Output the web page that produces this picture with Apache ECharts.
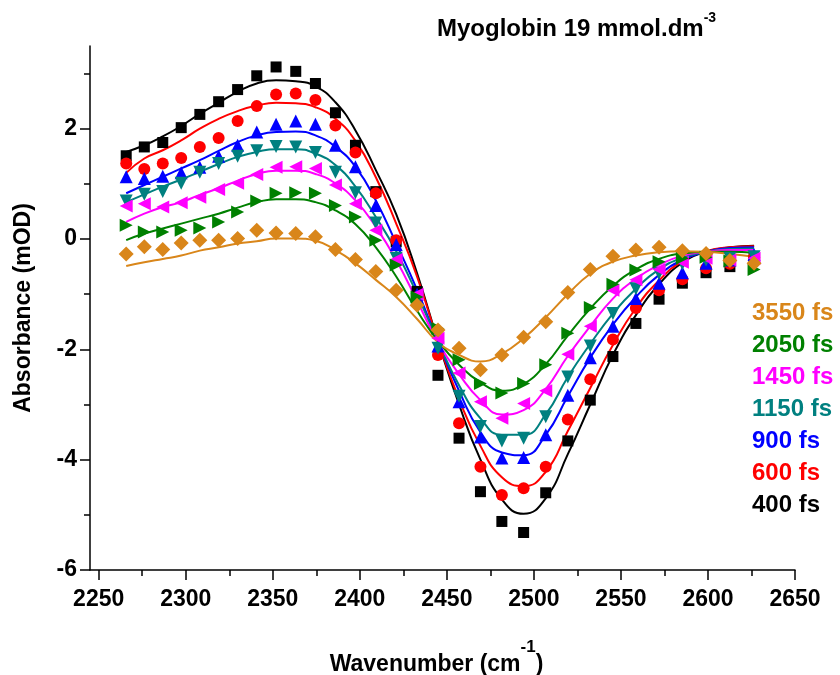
<!DOCTYPE html>
<html><head><meta charset="utf-8">
<script src="https://cdn.jsdelivr.net/npm/echarts@6/dist/echarts.min.js"></script>
<style>html,body{margin:0;padding:0;background:#fff}#c{width:840px;height:675px}</style>
</head><body><div id="c"></div>
<script>
// Wavenumber positions of the measured points (cm^-1)
const wavenumbers = [2265.8, 2276.2, 2286.8, 2297.4, 2308.1, 2318.9, 2329.8, 2340.8, 2351.9, 2363.2, 2374.5,
  2386.0, 2397.5, 2409.2, 2420.9, 2432.9, 2444.9, 2457.0, 2469.3, 2481.6, 2494.1, 2506.8, 2519.5, 2532.4,
  2545.4, 2558.6, 2571.9, 2585.3, 2598.9, 2612.6, 2626.5];

const delays = ['400 fs', '600 fs', '900 fs', '1150 fs', '1450 fs', '2050 fs', '3550 fs'];
const legendOrder = ['3550 fs', '2050 fs', '1450 fs', '1150 fs', '900 fs', '600 fs', '400 fs'];

// Measured absorbance (mOD)
const abs400 = [1.51, 1.67, 1.75, 2.02, 2.26, 2.49, 2.71, 2.96, 3.12, 3.04, 2.82, 2.29, 1.70, 0.86, -0.05, -0.95,
  -2.47, -3.61, -4.58, -5.12, -5.32, -4.60, -3.66, -2.92, -2.13, -1.53, -1.09, -0.80, -0.61, -0.50, -0.35];
const abs600 = [1.37, 1.27, 1.37, 1.47, 1.67, 1.83, 2.14, 2.41, 2.62, 2.64, 2.52, 2.06, 1.57, 0.83, -0.02, -1.05,
  -2.10, -3.34, -4.13, -4.64, -4.52, -4.13, -3.27, -2.54, -1.82, -1.25, -0.93, -0.73, -0.53, -0.45, -0.33];
const abs900 = [1.13, 1.10, 1.14, 1.20, 1.30, 1.50, 1.70, 1.94, 2.08, 2.14, 2.08, 1.70, 1.31, 0.61, -0.10, -1.00,
  -1.94, -2.95, -3.59, -3.97, -3.96, -3.55, -2.83, -2.15, -1.58, -1.08, -0.80, -0.61, -0.44, -0.38, -0.28];
const abs1150 = [0.69, 0.81, 0.86, 1.01, 1.21, 1.37, 1.50, 1.60, 1.68, 1.67, 1.57, 1.21, 0.84, 0.29, -0.35, -1.10,
  -1.98, -2.85, -3.40, -3.66, -3.61, -3.22, -2.50, -1.94, -1.35, -0.90, -0.62, -0.45, -0.38, -0.35, -0.32];
const abs1450 = [0.60, 0.64, 0.58, 0.66, 0.76, 0.90, 1.01, 1.17, 1.30, 1.31, 1.28, 0.98, 0.64, 0.16, -0.37, -1.00,
  -1.80, -2.43, -2.95, -3.25, -2.98, -2.75, -2.09, -1.58, -0.93, -0.74, -0.55, -0.42, -0.35, -0.38, -0.35];
const abs2050 = [0.25, 0.13, 0.13, 0.16, 0.20, 0.31, 0.49, 0.69, 0.83, 0.84, 0.83, 0.61, 0.40, -0.02, -0.47, -1.05,
  -1.62, -2.19, -2.62, -2.79, -2.62, -2.28, -1.71, -1.24, -0.82, -0.56, -0.41, -0.35, -0.33, -0.40, -0.55];
const abs3550 = [-0.27, -0.14, -0.19, -0.07, -0.02, -0.02, 0.01, 0.16, 0.11, 0.10, 0.04, -0.19, -0.37, -0.59, -0.93, -1.20,
  -1.65, -1.98, -2.37, -2.10, -1.78, -1.50, -0.97, -0.55, -0.31, -0.20, -0.15, -0.21, -0.26, -0.39, -0.44];

// Fitted curves (mOD), read at the same wavenumbers
const fit400 = [1.58, 1.70, 1.86, 2.05, 2.27, 2.47, 2.67, 2.82, 2.88, 2.86, 2.77, 2.48, 1.97, 1.25, 0.45, -0.62,
  -1.85, -3.00, -4.00, -4.72, -4.98, -4.70, -3.90, -3.00, -2.10, -1.38, -0.82, -0.43, -0.23, -0.15, -0.12];
const fit600 = [1.20, 1.46, 1.61, 1.79, 2.00, 2.18, 2.32, 2.42, 2.47, 2.46, 2.39, 2.18, 1.78, 1.12, 0.28, -0.68,
  -1.85, -2.90, -3.75, -4.32, -4.48, -4.22, -3.48, -2.70, -1.92, -1.25, -0.75, -0.40, -0.22, -0.15, -0.13];
const fit900 = [0.83, 0.98, 1.13, 1.28, 1.43, 1.60, 1.76, 1.88, 1.94, 1.95, 1.88, 1.67, 1.31, 0.70, -0.08, -0.92,
  -1.86, -2.75, -3.50, -3.87, -3.92, -3.55, -2.85, -2.15, -1.55, -1.05, -0.65, -0.38, -0.23, -0.16, -0.15];
const fit1150 = [0.67, 0.81, 0.95, 1.08, 1.22, 1.36, 1.49, 1.58, 1.63, 1.63, 1.55, 1.34, 0.95, 0.40, -0.22, -1.00,
  -1.86, -2.65, -3.25, -3.55, -3.55, -3.18, -2.50, -1.90, -1.35, -0.90, -0.55, -0.34, -0.23, -0.18, -0.17];
const fit1450 = [0.31, 0.46, 0.58, 0.67, 0.80, 0.92, 1.06, 1.18, 1.24, 1.24, 1.18, 1.01, 0.70, 0.22, -0.38, -1.12,
  -1.87, -2.45, -2.92, -3.18, -3.10, -2.72, -2.12, -1.58, -1.08, -0.72, -0.47, -0.30, -0.23, -0.20, -0.20];
const fit2050 = [-0.02, 0.10, 0.19, 0.28, 0.37, 0.46, 0.57, 0.67, 0.72, 0.72, 0.67, 0.52, 0.27, -0.15, -0.68, -1.30,
  -1.85, -2.28, -2.60, -2.75, -2.63, -2.27, -1.75, -1.26, -0.85, -0.55, -0.36, -0.26, -0.23, -0.23, -0.25];
const fit3550 = [-0.49, -0.42, -0.36, -0.30, -0.21, -0.15, -0.08, -0.04, 0.01, 0.01, -0.03, -0.20, -0.44, -0.74, -1.05, -1.45,
  -1.87, -2.10, -2.22, -2.08, -1.80, -1.42, -1.00, -0.63, -0.41, -0.30, -0.24, -0.22, -0.23, -0.27, -0.32];

// Tick labels
const xTicks = [2250, 2300, 2350, 2400, 2450, 2500, 2550, 2600, 2650];
const xMinorTicks = [2275, 2325, 2375, 2425, 2475, 2525, 2575, 2625];
const yTicks = [-6, -4, -2, 0, 2];
const yMinorTicks = [-5, -3, -1, 1, 3];

const measured = [abs400, abs600, abs900, abs1150, abs1450, abs2050, abs3550];
const fits = [fit400, fit600, fit900, fit1150, fit1450, fit2050, fit3550];

const FONT = "'Liberation Sans', Arial, sans-serif";
const styles = [
  { color: '#000000', symbol: 'rect', size: 11, rotate: 0 },
  { color: '#FF0000', symbol: 'circle', size: 12, rotate: 0 },
  { color: '#0000FF', symbol: 'triangle', size: 13, rotate: 0 },
  { color: '#008080', symbol: 'triangle', size: 13, rotate: 180 },
  { color: '#FF00FF', symbol: 'triangle', size: 13, rotate: 90 },
  { color: '#008000', symbol: 'triangle', size: 13, rotate: -90 },
  { color: '#D9861A', symbol: 'diamond', size: 15, rotate: 0 }
];

const series = [];
delays.forEach((name, i) => {
  const st = styles[i];
  series.push({
    type: 'line', name, xAxisIndex: 0, yAxisIndex: 0,
    data: wavenumbers.map((x, k) => [x, fits[i][k]]),
    smooth: true, showSymbol: false, symbol: 'none', silent: true,
    lineStyle: { color: st.color, width: 2 }, itemStyle: { color: st.color }, z: 2
  });
});
delays.forEach((name, i) => {
  const st = styles[i];
  series.push({
    type: 'scatter', name, xAxisIndex: 0, yAxisIndex: 0,
    data: wavenumbers.map((x, k) => [x, measured[i][k]]),
    symbol: st.symbol, symbolSize: st.size, symbolRotate: st.rotate,
    itemStyle: { color: st.color, opacity: 1 }, z: 3
  });
});

const axisColor = '#000';
const chart = echarts.init(document.getElementById('c'), null, { renderer: 'canvas' });
chart.setOption({
  animation: false,
  backgroundColor: '#fff',
  title: {
    text: '{m|Myoglobin 19 mmol.dm}{s|-3}',
    left: 437, top: 11, padding: 0,
    textStyle: {
      rich: {
        m: { fontSize: 24, fontWeight: 'bold', fontFamily: FONT, color: '#000', lineHeight: 36 },
        s: { fontSize: 14, fontWeight: 'bold', fontFamily: FONT, color: '#000', lineHeight: 14, verticalAlign: 'top' }
      }
    }
  },
  legend: {
    orient: 'vertical', left: 747, top: 301, padding: 0,
    itemWidth: 0, itemHeight: 14, itemGap: 8, icon: 'none', selectedMode: false,
    textStyle: { fontSize: 24, fontWeight: 'bold', fontFamily: FONT, lineHeight: 24 },
    data: legendOrder.map(n => ({ name: n, icon: 'none', textStyle: { color: styles[delays.indexOf(n)].color } }))
  },
  grid: { left: 90, right: 45, top: 46, bottom: 105, containLabel: false, outerBoundsMode: 'none' },
  xAxis: [
    {
      type: 'value', min: 2245, max: 2650, position: 'bottom',
      axisLine: { show: true, onZero: false, lineStyle: { color: axisColor, width: 1.5 } },
      axisTick: { show: true, inside: false, length: 10, customValues: xTicks, lineStyle: { color: axisColor, width: 1.5 } },
      axisLabel: { show: true, customValues: xTicks, margin: 18, fontSize: 23, fontWeight: 'bold', fontFamily: FONT, color: '#000',
        formatter: v => String(v) },
      splitLine: { show: false },
      name: '{m|Wavenumber (cm}{s|-1}{m|)}',
      nameLocation: 'middle', nameGap: 69,
      nameTextStyle: {
        padding: [0, 12, 0, 0],
        rich: {
          m: { fontSize: 23, fontWeight: 'bold', fontFamily: FONT, color: '#000', lineHeight: 52 },
          s: { fontSize: 17, fontWeight: 'bold', fontFamily: FONT, color: '#000', lineHeight: 17, verticalAlign: 'top' }
        }
      }
    },
    {
      type: 'value', min: 2245, max: 2650, position: 'bottom',
      axisLine: { show: false, onZero: false },
      axisTick: { show: true, inside: false, length: 6, customValues: xMinorTicks, lineStyle: { color: axisColor, width: 1.5 } },
      axisLabel: { show: false },
      splitLine: { show: false }
    }
  ],
  yAxis: [
    {
      type: 'value', min: -6, max: 3.5, position: 'left',
      axisLine: { show: true, onZero: false, lineStyle: { color: axisColor, width: 1.5 } },
      axisTick: { show: true, inside: false, length: 10, customValues: yTicks, lineStyle: { color: axisColor, width: 1.5 } },
      axisLabel: { show: true, customValues: yTicks, margin: 13, fontSize: 23, fontWeight: 'bold', fontFamily: FONT, color: '#000' },
      splitLine: { show: false },
      name: 'Absorbance (mOD)', nameLocation: 'middle', nameGap: 55, nameRotate: 90,
      nameTextStyle: { fontSize: 23, fontWeight: 'bold', fontFamily: FONT, color: '#000' }
    },
    {
      type: 'value', min: -6, max: 3.5, position: 'left',
      axisLine: { show: false, onZero: false },
      axisTick: { show: true, inside: false, length: 6, customValues: yMinorTicks, lineStyle: { color: axisColor, width: 1.5 } },
      axisLabel: { show: false },
      splitLine: { show: false }
    }
  ],
  series
});
</script>
</body></html>
